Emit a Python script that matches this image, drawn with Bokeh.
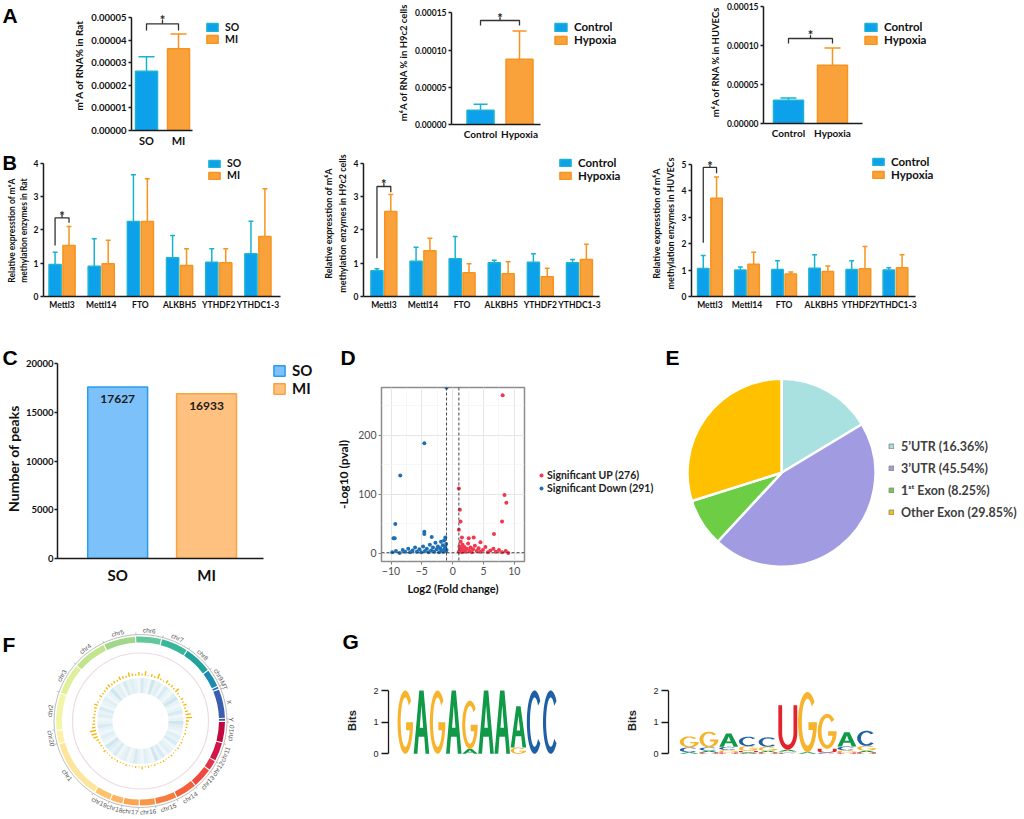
import numpy as np
from bokeh.plotting import figure
from bokeh.models import (Range1d, Legend, LegendItem, FixedTicker, Span,
                          PrintfTickFormatter, ColumnDataSource)
from bokeh.layouts import row, column
from bokeh.embed import file_html
from bokeh.resources import INLINE
from bokeh.core.properties import value

FONT = "Lato"
LFONT = "Liberation Sans"

# ====================== DATA ======================
# Panel A : m6A of RNA (%)
a_rat_groups = ["SO", "MI"]
a_rat_mean = [0.0000263, 0.0000363]
a_rat_sd = [0.0000064, 0.0000065]
a_h9_groups = ["Control", "Hypoxia"]
a_h9_mean = [0.0000192, 0.0000878]
a_h9_sd = [0.0000081, 0.0000380]
a_hu_groups = ["Control", "Hypoxia"]
a_hu_mean = [0.0000298, 0.0000746]
a_hu_sd = [0.0000029, 0.0000221]

# Panel B : relative expression of m6A enzymes
b_genes = ["Mettl3", "Mettl14", "FTO", "ALKBH5", "YTHDF2", "YTHDC1-3"]
b_rat_so = [0.96, 0.91, 2.25, 1.16, 1.03, 1.28]
b_rat_so_sd = [0.37, 0.82, 1.40, 0.67, 0.40, 0.98]
b_rat_mi = [1.53, 0.98, 2.25, 0.93, 1.01, 1.80]
b_rat_mi_sd = [0.57, 0.71, 1.28, 0.50, 0.42, 1.43]
b_h9_ctrl = [0.77, 1.06, 1.13, 1.01, 1.03, 1.01]
b_h9_ctrl_sd = [0.06, 0.42, 0.67, 0.08, 0.25, 0.10]
b_h9_hyp = [2.55, 1.37, 0.71, 0.68, 0.59, 1.11]
b_h9_hyp_sd = [0.51, 0.38, 0.27, 0.36, 0.26, 0.46]
b_hu_ctrl = [1.06, 1.00, 1.02, 1.07, 1.02, 1.00]
b_hu_ctrl_sd = [0.49, 0.12, 0.33, 0.51, 0.33, 0.09]
b_hu_hyp = [3.72, 1.22, 0.85, 0.95, 1.05, 1.09]
b_hu_hyp_sd = [0.80, 0.45, 0.08, 0.20, 0.84, 0.49]

# Panel C : number of peaks
c_groups = ["SO", "MI"]
c_peaks = [17627, 16933]

# Panel D : volcano
d_down_x = [-1.0, -4.6, -8.5, -9.3, -9.6, -9.4, -4.6, -4.6, -3.4, -1.2,
            -9.8, -9.2, -8.6, -8.1, -7.7, -7.2, -6.9, -6.5, -6.1, -5.8, -5.4, -5.1,
            -4.8, -4.5, -4.2, -3.9, -3.7, -3.5, -3.2, -3.0, -2.8, -2.6, -2.4, -2.2,
            -2.0, -1.9, -1.8, -1.6, -1.5, -1.4, -1.3, -1.2, -1.1, -1.05, -1.0]
d_down_y = [281, 187, 132, 50, 26, 26, 37, 33, 28, 27,
            2, 4, 1, 6, 3, 8, 2, 5, 10, 3, 7, 2,
            12, 4, 8, 2, 15, 5, 10, 3, 18, 7, 12, 2,
            9, 20, 5, 14, 3, 22, 8, 11, 4, 16, 6]
d_up_x = [8.1, 1.0, 1.16, 1.27, 1.0, 8.4, 8.7, 8.0, 6.7, 1.5, 2.6, 3.4, 4.5,
          1.0, 1.1, 1.2, 1.3, 1.4, 1.5, 1.6, 1.8, 1.9, 2.1, 2.3, 2.5, 2.7, 2.9,
          3.1, 3.3, 3.6, 3.9, 4.2, 4.5, 4.9, 5.3, 5.7, 6.1, 6.6, 7.0, 7.5, 8.0, 8.6, 9.0]
d_up_y = [268, 110, 74, 54, 40, 99, 86, 54, 33, 27, 26, 27, 19,
          3, 12, 6, 20, 9, 2, 15, 5, 11, 3, 8, 17, 4, 10,
          2, 7, 13, 4, 9, 3, 6, 11, 2, 5, 8, 3, 6, 2, 4, 1]
d_labels = ["Significant UP (276)", "Significant Down (291)"]

# Panel E : peak distribution
e_labels = ["5\u2019UTR (16.36%)", "3\u2019UTR (45.54%)", "1\u02e2\u1d57 Exon (8.25%)", "Other Exon (29.85%)"]
e_pct = [16.36, 45.54, 8.25, 29.85]
e_colors = ["#A9E1E1", "#A19CE2", "#6DCE45", "#FFC000"]

# Panel F : circos
chr_names = ["chr6", "chr7", "chr8", "chr9", "MT", "X", "Y", "chr10", "chr11", "chr12",
             "chr13", "chr14", "chr15", "chr16", "chr17", "chr18", "chr19", "chr1",
             "chr20", "chr2", "chr3", "chr4", "chr5"]
chr_len = [126, 134, 139, 87, 10, 144, 10, 102, 91, 49, 98, 105, 105, 77, 77, 60, 81,
           301, 63, 182, 154, 168, 158]
chr_colors = ["#62C79B", "#38B79A", "#1FA39C", "#1B8CB0", "#2A76B8", "#3A5FB0", "#4F55A3",
              "#C0093E", "#D3164A", "#E4324A", "#EF4A3E", "#F5603A", "#F87C3E", "#F99546",
              "#FBA552", "#FCB460", "#FDC36C", "#FEE59C", "#FFF0A8", "#F2F5A6", "#E0EF9A",
              "#C2E48C", "#A0D789"]
hist_vals = [2, 5, 1, 3, 2, 6, 2, 1, 4, 2, 3, 2, 5, 2, 1, 3, 2, 4, 2, 3,
             6, 7, 3, 2, 2, 1, 2, 1, 1, 2, 1, 2, 1, 1, 2, 1, 1, 2, 1, 1,
             2, 1, 2, 1, 3, 1, 2, 1, 1, 2, 1, 1, 2, 1, 2, 1, 1, 3, 1, 2,
             2, 3, 5, 6, 7, 4, 3, 2, 3, 2, 2, 3, 4, 2, 1, 3, 2, 2, 3, 4,
             2, 3, 2, 4, 3, 2, 5, 3, 2, 4]
heat_vals = [0.5, 0.3, 0.2, 0.6, 0.3, 0.4, 0.2, 0.5, 0.3, 0.2, 0.4, 0.6, 0.3, 0.2, 0.3, 0.5,
             0.2, 0.3, 0.6, 0.4, 0.3, 0.2, 0.4, 0.3, 0.5, 0.2, 0.3, 0.4, 0.2, 0.5, 0.3, 0.6,
             0.2, 0.3, 0.4, 0.2, 0.3, 0.5, 0.3, 0.2, 0.4, 0.3, 0.2, 0.5, 0.3, 0.4, 0.6, 0.2,
             0.3, 0.4, 0.2, 0.3, 0.5, 0.3, 0.2, 0.4, 0.3, 0.5, 0.2, 0.3, 0.4, 0.2, 0.3, 0.6,
             0.3, 0.4, 0.2, 0.5, 0.3, 0.4, 0.3, 0.2]

# Panel G : motif logos (letters bottom -> top, heights in bits)
logo1_letters = [["G"], ["A"], ["G"], ["A"], ["A", "G"], ["A"], ["A"], ["G", "A"], ["C"], ["C"]]
logo1_bits = [[2.0], [2.0], [2.0], [2.0], [0.15, 1.53], [2.0], [2.0], [0.2, 1.3], [2.0], [2.0]]
logo2_letters = [["A", "C", "G"], ["U", "A", "C", "G"], ["U", "G", "C", "A"], ["A", "U", "G", "C"],
                 ["U", "A", "G", "C"], ["C", "G", "A", "U"], ["A", "G"], ["C", "U", "G"],
                 ["U", "G", "C", "A"], ["U", "A", "G", "C"]]
logo2_bits = [[0.05, 0.15, 0.35], [0.04, 0.06, 0.10, 0.50], [0.04, 0.08, 0.10, 0.42],
              [0.04, 0.05, 0.15, 0.30], [0.04, 0.05, 0.13, 0.30], [0.03, 0.04, 0.06, 1.40],
              [0.05, 1.90], [0.04, 0.12, 1.10], [0.04, 0.07, 0.12, 0.45], [0.04, 0.06, 0.15, 0.48]]

# ====================== STYLE ======================
BLUE_FILL, BLUE_LINE, BLUE_ERR = "#0CA1EA", "#1DB3D2", "#19B2CF"
ORG_FILL, ORG_LINE, ORG_ERR = "#F9A23B", "#F7931E", "#F7931E"
LOGO_COLORS = {"A": "#109A47", "C": "#1F5FA3", "G": "#F7B32B", "U": "#E5212B"}


def base_fig(w, h, ml, mr, mt, mb, xr, yr, **kw):
    p = figure(width=w, height=h, min_border_left=ml, min_border_right=mr,
               min_border_top=mt, min_border_bottom=mb,
               x_range=Range1d(*xr), y_range=Range1d(*yr),
               output_backend="svg", toolbar_location=None, tools="", **kw)
    p.frame_align = False
    p.outline_line_color = None
    p.grid.visible = False
    p.background_fill_color = "white"
    p.border_fill_color = "white"
    return p


def text_fig(figx, figy, w, h):
    """Axis-free strip; its data coordinates are page pixels (y negated)."""
    return base_fig(w, h, 0, 0, 0, 0, (figx, figx + w), (-(figy + h), -figy),
                    x_axis_location=None, y_axis_location=None)


def put_text(p, x, y, txt, size, font=LFONT, bold=True, angle=0.0, align="left",
             color="black"):
    p.text(x=[x], y=[-y], text=[txt], angle=angle, text_font=value(font),
           text_font_style="bold" if bold else "normal", text_font_size=f"{size}px",
           text_align=align, text_baseline="middle", text_color=color)


def style_axis(ax, tick_px, label_px=None, bold=True, font=FONT, color="#111111",
               tick_out=3, standoff=2, line_w=1.5, label_standoff=3):
    ax.axis_line_color = "#1a1a1a"
    ax.axis_line_width = line_w
    ax.major_tick_line_color = "#1a1a1a"
    ax.major_tick_line_width = line_w
    ax.major_tick_out = tick_out
    ax.major_tick_in = 0
    ax.minor_tick_out = 0
    ax.minor_tick_in = 0
    ax.major_label_text_font = font
    ax.major_label_text_font_style = "bold" if bold else "normal"
    ax.major_label_text_font_size = f"{tick_px}px"
    ax.major_label_text_color = color
    ax.major_label_standoff = standoff
    ax.axis_label_text_font = font
    ax.axis_label_text_font_style = "bold"
    ax.axis_label_text_font_size = f"{label_px or tick_px}px"
    ax.axis_label_text_color = color
    ax.axis_label_standoff = label_standoff


def draw_bars(p, xs, means, sds, fill, line, errc, bw, cw):
    tops = [m + s for m, s in zip(means, sds)]
    src = ColumnDataSource(dict(x=xs, top=means, err=tops,
                                cl=[x - cw / 2 for x in xs], cr=[x + cw / 2 for x in xs]))
    p.segment(x0="x", y0="top", x1="x", y1="err", source=src, line_color=errc, line_width=1.5)
    p.segment(x0="cl", y0="err", x1="cr", y1="err", source=src, line_color=errc, line_width=1.5)
    return p.vbar(x="x", top="top", bottom=0, width=bw, source=src,
                  fill_color=fill, line_color=line, line_width=1.5)


def bar_panel(figx, figy, w, h, ml, mb, xa, xb_axis, pxx, pxy, ybounds, yticks, yfmt,
              xticks, xlabels, series, bar_px, cap_px, ylabel, ylab_px, tick_px, xlab_px,
              brk, leg):
    """Frame runs from the y axis to the right edge and from the top edge, so the
    legend, bracket and star all lie inside it; axis lines are bounded."""
    fl = figx + ml
    fb = figy + h - mb
    xr = (xa, xa + (w - ml) / pxx)
    yr = (0, (fb - figy) / pxy)
    p = base_fig(w, h, ml, 0, 0, mb, xr, yr)
    rends = []
    for (xs, means, sds, fill, line, errc) in series:
        rends.append(draw_bars(p, xs, means, sds, fill, line, errc, bar_px / pxx, cap_px / pxx))

    style_axis(p.yaxis[0], tick_px, ylab_px, tick_out=3, standoff=2, label_standoff=3)
    p.yaxis.bounds = ybounds
    p.yaxis.ticker = FixedTicker(ticks=yticks)
    if yfmt:
        p.yaxis.formatter = PrintfTickFormatter(format=yfmt)
    if ylabel:
        p.yaxis.axis_label = ylabel
    style_axis(p.xaxis[0], xlab_px, tick_out=0, standoff=3)
    p.xaxis.bounds = (xa, xb_axis)
    p.xaxis.ticker = FixedTicker(ticks=xticks)
    p.xaxis.major_label_overrides = {t: l for t, l in zip(xticks, xlabels)}

    # significance bracket
    bx0, bx1, btop, bl, br, btick, bstar = brk
    p.line(x=[bx0, bx0, bx1, bx1], y=[bl, btop, btop, br], line_color="#333333", line_width=1.3)
    xm = (bx0 + bx1) / 2
    p.line(x=[xm, xm], y=[btop, btick], line_color="#333333", line_width=1.3)
    p.text(x=[xm], y=[bstar], text=["*"], text_font=value(FONT), text_font_style="bold",
           text_font_size="13px", text_align="center", text_baseline="middle",
           text_color="#222222", y_offset=4)

    labels, box_left, box_top, pitch, gw, gh, fpx = leg
    items = [LegendItem(label=value(l), renderers=[r]) for l, r in zip(labels, rends)]
    n = len(items)
    lg = Legend(items=items, location=(int(round(box_left - fl)), int(round(fb - (box_top + n * pitch)))),
                orientation="vertical", border_line_color=None, background_fill_alpha=0,
                padding=0, margin=0, spacing=0, glyph_width=gw, glyph_height=gh,
                label_height=int(pitch), label_standoff=6,
                label_text_font=FONT, label_text_font_style="bold",
                label_text_font_size=f"{fpx}px", label_text_color="#111111")
    p.add_layout(lg, "center")
    return p


# ---------------- Row A (y 0..150) ----------------
letA = text_fig(0, 0, 38, 150)
put_text(letA, 2, 15, "A", 21)

a1 = bar_panel(38, 0, 302, 150, 93, 20, -0.469, 1.438, 32, 2254000,
               (0, 5e-5), [0, 1e-5, 2e-5, 3e-5, 4e-5, 5e-5], "%.5f", [0, 1], a_rat_groups,
               [([0], a_rat_mean[:1], a_rat_sd[:1], BLUE_FILL, BLUE_LINE, BLUE_ERR),
                ([1], a_rat_mean[1:], a_rat_sd[1:], ORG_FILL, ORG_LINE, ORG_ERR)],
               22, 16, "m\u2076A of RNA% in Rat", 10, 9.5, 11,
               (0, 1, 4.734e-5, 4.437e-5, 4.437e-5, 4.911e-5, 5.10e-5),
               (a_rat_groups, 205, 20, 12.5, 14, 10, 10.5))

a2 = bar_panel(340, 0, 340, 150, 111, 26, -0.744, 1.538, 39, 744000,
               (0, 1.5e-4), [0, 5e-5, 1e-4, 1.5e-4], "%.5f", [0, 1], a_h9_groups,
               [([0], a_h9_mean[:1], a_h9_sd[:1], BLUE_FILL, BLUE_LINE, BLUE_ERR),
                ([1], a_h9_mean[1:], a_h9_sd[1:], ORG_FILL, ORG_LINE, ORG_ERR)],
               27, 14, "m\u2076A of RNA % in H9c2 cells", 9.5, 8.5, 10,
               (0, 1, 1.398e-4, 1.331e-4, 1.331e-4, 1.442e-4, 1.488e-4),
               (a_h9_groups, 553, 21, 12.3, 15, 10, 11.5))

a3 = bar_panel(680, 0, 344, 150, 83, 27, -0.568, 1.682, 44, 782000,
               (0, 1.5e-4), [0, 5e-5, 1e-4, 1.5e-4], "%.5f", [0, 1], a_hu_groups,
               [([0], a_hu_mean[:1], a_hu_sd[:1], BLUE_FILL, BLUE_LINE, BLUE_ERR),
                ([1], a_hu_mean[1:], a_hu_sd[1:], ORG_FILL, ORG_LINE, ORG_ERR)],
               30, 16, "m\u2076A of RNA % in HUVECs", 9.5, 8.5, 10,
               (0, 1, 1.087e-4, 1.023e-4, 1.023e-4, 1.129e-4, 1.184e-4),
               (a_hu_groups, 863, 19, 13.5, 15, 10, 11.5))

# ---------------- Row B (y 150..318) ----------------
gidx = list(range(len(b_genes)))


def dodge(off):
    return [i + off for i in gidx]


letB = text_fig(0, 150, 30, 168)
put_text(letB, 2, 162, "B", 20)
put_text(letB, 17.5, 230, "Relative expresstion of m\u2076A\nmethylation enzymes in Rat", 8.5,
         font=FONT, angle=np.pi / 2, align="center", color="#111111")

b1 = bar_panel(30, 150, 290, 168, 10, 22, -0.4735, 5.587, 39.6, 33.33,
               (0, 4), [0, 1, 2, 3, 4], None, gidx, b_genes,
               [(dodge(-0.178), b_rat_so, b_rat_so_sd, BLUE_FILL, BLUE_LINE, BLUE_ERR),
                (dodge(0.178), b_rat_mi, b_rat_mi_sd, ORG_FILL, ORG_LINE, ORG_ERR)],
               12.3, 5, None, 9, 8.5, 8.5,
               (-0.178, 0.178, 2.36, 1.53, 2.21, 2.45, 2.53),
               (["SO", "MI"], 204, 157, 12, 14, 9, 10.5))

b2 = bar_panel(320, 150, 328, 168, 38, 22, -0.521, 5.509, 39.8, 33.33,
               (0, 4), [0, 1, 2, 3, 4], None, gidx, b_genes,
               [(dodge(-0.177), b_h9_ctrl, b_h9_ctrl_sd, BLUE_FILL, BLUE_LINE, BLUE_ERR),
                (dodge(0.177), b_h9_hyp, b_h9_hyp_sd, ORG_FILL, ORG_LINE, ORG_ERR)],
               12.3, 5, "Relative expresstion of m\u2076A\nmethylation enzymes in H9c2 cells", 9, 8.5, 8.5,
               (-0.177, 0.177, 3.30, 1.15, 3.13, 3.40, 3.51),
               (["Control", "Hypoxia"], 553, 158, 12, 14, 9, 11.5))

b3 = bar_panel(648, 150, 376, 168, 35, 22, -0.496, 5.530, 38, 26.44,
               (0, 5), [0, 1, 2, 3, 4, 5], None, gidx, b_genes,
               [(dodge(-0.179), b_hu_ctrl, b_hu_ctrl_sd, BLUE_FILL, BLUE_LINE, BLUE_ERR),
                (dodge(0.179), b_hu_hyp, b_hu_hyp_sd, ORG_FILL, ORG_LINE, ORG_ERR)],
               11.7, 5, "Relative expresstion of m\u2076A\nmethylation enzymes in HUVECs", 9, 8.5, 8.5,
               (-0.179, 0.179, 4.88, 2.03, 4.66, 4.96, 5.09),
               (["Control", "Hypoxia"], 863, 157, 12, 14, 9, 11.5))

# ---------------- Panel C (y 318..600) ----------------
letC = text_fig(0, 318, 22, 282)
put_text(letC, 2, 357, "C", 21)
put_text(letC, 13, 458, "Number of peaks", 14, font=FONT, angle=np.pi / 2, align="center",
         color="#111111")

c_figx, c_w, c_ml, c_mb = 22, 308, 30, 42
c_pxx, c_pxy = 90.5, 0.009733
c_fl, c_fb = c_figx + c_ml, 318 + 282 - c_mb
c_xr = (-0.677, -0.677 + (c_w - c_ml) / c_pxx)
c_yr = (0, (c_fb - 318) / c_pxy)
c = base_fig(c_w, 282, c_ml, 0, 0, c_mb, c_xr, c_yr)
c_fill = ["#7CC1F9", "#FFC17F"]
c_line = ["#2D9CEB", "#F9A33F"]
c_rends = []
for i in range(2):
    c_rends.append(c.vbar(x=[i], top=[c_peaks[i]], bottom=0, width=0.674,
                          fill_color=c_fill[i], line_color=c_line[i], line_width=1.5))
c.text(x=[0, 1], y=c_peaks, text=[str(v) for v in c_peaks], text_font=value(FONT),
       text_font_style="bold", text_font_size="12px", text_align="center",
       text_baseline="middle", text_color="#1a1a1a", y_offset=12)
style_axis(c.yaxis[0], 9.5, tick_out=3, standoff=1)
c.yaxis.bounds = (0, 20000)
c.yaxis.ticker = FixedTicker(ticks=[0, 5000, 10000, 15000, 20000])
style_axis(c.xaxis[0], 15, tick_out=0, standoff=7)
c.xaxis.bounds = (-0.677, 1.643)
c.xaxis.ticker = FixedTicker(ticks=[0, 1])
c.xaxis.major_label_overrides = {0: "SO", 1: "MI"}
c_leg = Legend(items=[LegendItem(label=value(g), renderers=[r]) for g, r in zip(c_groups, c_rends)],
               location=(int(267.7 - c_fl), int(c_fb - (363 + 34))), border_line_color=None,
               background_fill_alpha=0, padding=0, margin=0, spacing=0, glyph_width=14,
               glyph_height=13, label_height=17, label_standoff=6, label_text_font=FONT,
               label_text_font_style="bold", label_text_font_size="15px",
               label_text_color="#111111")
c.add_layout(c_leg, "center")

# ---------------- Panel D ----------------
dstrip = text_fig(330, 318, 332, 54)
put_text(dstrip, 340, 357, "D", 21)

d_panel_x = (-11.54, 11.64)
d_panel_y = (-13.6, 281.3)
d = base_fig(200, 228, 51, 6, 15, 39, d_panel_x, d_panel_y)
d.outline_line_color = "#8C8C8C"
d.outline_line_width = 1.5
gx_major, gx_minor = [-10, -5, 0, 5, 10], [-7.5, -2.5, 2.5, 7.5]
gy_major, gy_minor = [0, 100, 200], [50, 150, 250]
d.xaxis.ticker = FixedTicker(ticks=gx_major, minor_ticks=gx_minor)
d.yaxis.ticker = FixedTicker(ticks=gy_major, minor_ticks=gy_minor)
d.grid.visible = True
d.grid.grid_line_color = "#E6E6E6"
d.grid.grid_line_width = 1
d.grid.minor_grid_line_color = "#F3F3F3"
d.grid.minor_grid_line_width = 0.7
for ax in d.axis:
    style_axis(ax, 10.5, 12, bold=False, color="#4D4D4D", tick_out=3, standoff=2, line_w=1,
               label_standoff=4)
    ax.axis_line_color = None
    ax.major_tick_line_color = "#7F7F7F"
    ax.axis_label_text_color = "#111111"
d.xaxis.axis_label = "Log2 (Fold change)"
d.yaxis.axis_label = "-Log10 (pval)"
d.xaxis.axis_label_text_font_size = "11px"
for loc in (-1, 1):
    d.add_layout(Span(location=loc, dimension="height", line_color="#333333",
                      line_dash="3 2", line_width=0.9))
d.add_layout(Span(location=1.3, dimension="width", line_color="#333333", line_dash="3 2",
                  line_width=0.9))
d.scatter(d_up_x, d_up_y, size=4, color="#F0384F", line_color=None)
d.scatter(d_down_x, d_down_y, size=4, color="#1F6FB4", line_color=None)

dleg = text_fig(530, 372, 132, 228)
k_up = dleg.scatter(x=[5000], y=[5000], size=4, color="#F0384F", line_color=None)
k_dn = dleg.scatter(x=[5000], y=[5000], size=4, color="#1F6FB4", line_color=None)
d_leg = Legend(items=[LegendItem(label=value(d_labels[0]), renderers=[k_up]),
                      LegendItem(label=value(d_labels[1]), renderers=[k_dn])],
               location=(6, 106), border_line_color=None,
               background_fill_alpha=0, padding=0, margin=0, spacing=0, glyph_width=10,
               glyph_height=10, label_height=13, label_standoff=1, label_text_font=FONT,
               label_text_font_style="bold", label_text_font_size="10.5px",
               label_text_color="#222222")
dleg.add_layout(d_leg, "center")

# ---------------- Panel E ----------------
e = text_fig(662, 318, 362, 282)
cum = np.concatenate([[0], np.cumsum(e_pct)]) / 100.0
for i in range(len(e_pct)):
    e.wedge(x=[781], y=[-472.3], radius=94,
            start_angle=[np.pi / 2 - 2 * np.pi * cum[i]],
            end_angle=[np.pi / 2 - 2 * np.pi * cum[i + 1]],
            direction="clock", fill_color=e_colors[i], line_color="white", line_width=2.5)
# legend keys: square swatches kept outside the visible range
e_keys = [e.vbar(x=[5000], top=[-5000], width=1, fill_color=col, line_color="#8A8A8A",
                 line_width=1) for col in e_colors]
e_leg = Legend(items=[LegendItem(label=value(l), renderers=[r]) for l, r in zip(e_labels, e_keys)],
               location=(226, 77), border_line_color=None, background_fill_alpha=0, padding=0,
               margin=0, spacing=0, glyph_width=6, glyph_height=6, label_height=22,
               label_standoff=7, label_text_font=FONT, label_text_font_style="bold",
               label_text_font_size="12.5px", label_text_color="#3F3F3F")
e.add_layout(e_leg, "center")
put_text(e, 665, 357, "E", 21)

# ---------------- Panel F (circos) ----------------
f = text_fig(0, 600, 300, 216)
cx, cy = 140.0, -720.5
gap = 0.8
avail = 360.0 - gap * len(chr_len)
total = float(sum(chr_len))
starts, ends = [], []
t = -3.0
for L in chr_len:
    span = L / total * avail
    starts.append(t)
    ends.append(t + span)
    t += span + gap
starts = np.array(starts)
ends = np.array(ends)


def ang(th):
    return np.radians(90.0 - np.asarray(th, dtype=float))


n = len(chr_len)
f.arc(x=[cx], y=[cy], radius=86.5, start_angle=0, end_angle=2 * np.pi, line_color="#A0A0A0",
      line_width=0.7)
f.annular_wedge(x=[cx] * n, y=[cy] * n, inner_radius=78.5, outer_radius=84.5,
                start_angle=ang(starts), end_angle=ang(ends), direction="clock",
                fill_color=chr_colors, line_color=None)
tk = np.radians(starts)
f.segment(x0=cx + 86.5 * np.sin(tk), y0=cy + 86.5 * np.cos(tk),
          x1=cx + 88.5 * np.sin(tk), y1=cy + 88.5 * np.cos(tk), line_color="#A0A0A0",
          line_width=0.7)
mids = (starts + ends) / 2
lab_ang = []
for th in mids:
    thn = th % 360
    if thn <= 90 or thn >= 270:
        lab_ang.append(np.radians(-thn))
    else:
        lab_ang.append(np.radians(180 - thn))
mr_ = np.radians(mids)
f.text(x=cx + 91 * np.sin(mr_), y=cy + 91 * np.cos(mr_), text=chr_names, angle=lab_ang,
       text_font=value(LFONT), text_font_size="6.5px", text_color="#555555",
       text_align="center", text_baseline="middle")
f.arc(x=[cx], y=[cy], radius=68, start_angle=0, end_angle=2 * np.pi, line_color="#EBDCE3",
      line_width=1.2)
nh = len(hist_vals)
hc = np.arange(nh) * (360.0 / nh) + 2.0
f.annular_wedge(x=[cx] * nh, y=[cy] * nh, inner_radius=45.5,
                outer_radius=[45.5 + 0.9 * v for v in hist_vals],
                start_angle=ang(hc - 0.8), end_angle=ang(hc + 0.8), direction="clock",
                fill_color="#F7B500", line_color=None)
nq = len(heat_vals)
qs = np.arange(nq) * (360.0 / nq)
f.annular_wedge(x=[cx] * nq, y=[cy] * nq, inner_radius=28, outer_radius=43,
                start_angle=ang(qs), end_angle=ang(qs + 360.0 / nq), direction="clock",
                fill_color="#7DBBD3", fill_alpha=[0.6 * v for v in heat_vals], line_color=None)
put_text(f, 2, 644, "F", 21)


# ---------------- Panel G (logos) ----------------
def letter_rings(L):
    tx, ty = 0.2, 0.11
    if L == "A":
        outer = [(0, 0), (0.36, 1), (0.64, 1), (1, 0), (0.76, 0), (0.68, 0.27), (0.32, 0.27), (0.24, 0)]
        hole = [(0.39, 0.41), (0.61, 0.41), (0.5, 0.77)]
        return [outer, hole]
    if L == "C":
        t1 = np.radians(np.linspace(42, 318, 50))
        t2 = t1[::-1]
        xs = np.r_[0.5 + 0.5 * np.cos(t1), 0.5 + (0.5 - tx) * np.cos(t2)]
        ys = np.r_[0.5 + 0.5 * np.sin(t1), 0.5 + (0.5 - ty) * np.sin(t2)]
        return [list(zip(xs, ys))]
    if L == "G":
        bt = 0.13
        t1 = np.radians(np.linspace(42, 360, 55))
        ths = np.arcsin(-bt / (0.5 - ty))
        t2 = np.linspace(ths, np.radians(42 - 360), 55)
        xs = list(0.5 + 0.5 * np.cos(t1)) + [1.0, 0.55, 0.55] + list(0.5 + (0.5 - tx) * np.cos(t2))
        ys = list(0.5 + 0.5 * np.sin(t1)) + [0.5, 0.5, 0.5 - bt] + list(0.5 + (0.5 - ty) * np.sin(t2))
        return [list(zip(xs, ys))]
    yb = 0.38
    tt = np.radians(np.linspace(180, 360, 30))
    ox, oy = 0.5 + 0.5 * np.cos(tt), yb + yb * np.sin(tt)
    ix, iy = 0.5 + (0.5 - tx) * np.cos(tt[::-1]), yb + (yb - ty) * np.sin(tt[::-1])
    xs = [0.0] + list(ox) + [1.0, 1 - tx] + list(ix) + [tx]
    ys = [1.0] + list(oy) + [1.0, 1.0] + list(iy) + [1.0]
    return [list(zip(xs, ys))]


def draw_logo(p, letters, bits):
    XS, YS, CL = [], [], []
    for i, (ls, hs) in enumerate(zip(letters, bits)):
        y0 = 0.0
        for L, hgt in zip(ls, hs):
            rings = letter_rings(L)
            XS.append([[[float(i - 0.5 + 0.02 + u * 0.96) for u, v in rg] for rg in rings]])
            YS.append([[[float(y0 + v * hgt) for u, v in rg] for rg in rings]])
            CL.append(LOGO_COLORS[L])
            y0 += hgt
    p.multi_polygons(xs=XS, ys=YS, fill_color=CL, line_color=None)


def logo_panel(w, h, ml, mt, mb, xa, pxx, letters, bits):
    xr = (xa, xa + (w - ml) / pxx)
    p = base_fig(w, h, ml, 0, mt, mb, xr, (-0.054, 2.158), x_axis_location=None)
    draw_logo(p, letters, bits)
    style_axis(p.yaxis[0], 9, 11, bold=False, font=LFONT, color="#222222", tick_out=7,
               standoff=3, line_w=1.3, label_standoff=12)
    p.yaxis.axis_label_text_font_style = "bold"
    p.yaxis.bounds = (0, 2)
    p.yaxis.ticker = FixedTicker(ticks=[0, 1, 2])
    p.yaxis.axis_label = "Bits"
    return p


gstrip = text_fig(300, 600, 320, 56)
put_text(gstrip, 342, 641, "G", 21)
g1 = logo_panel(320, 160, 88, 29, 61, -1.04, 16.16, logo1_letters, logo1_bits)
g2 = logo_panel(404, 216, 48, 85, 61, -1.056, 19.7, logo2_letters, logo2_bits)

layout = column(row(letA, a1, a2, a3),
                row(letB, b1, b2, b3),
                row(letC, c, column(dstrip, row(d, dleg)), e),
                row(f, column(gstrip, g1), g2))
open("out.html", "w").write(file_html(layout, INLINE, title="m6A figure"))
